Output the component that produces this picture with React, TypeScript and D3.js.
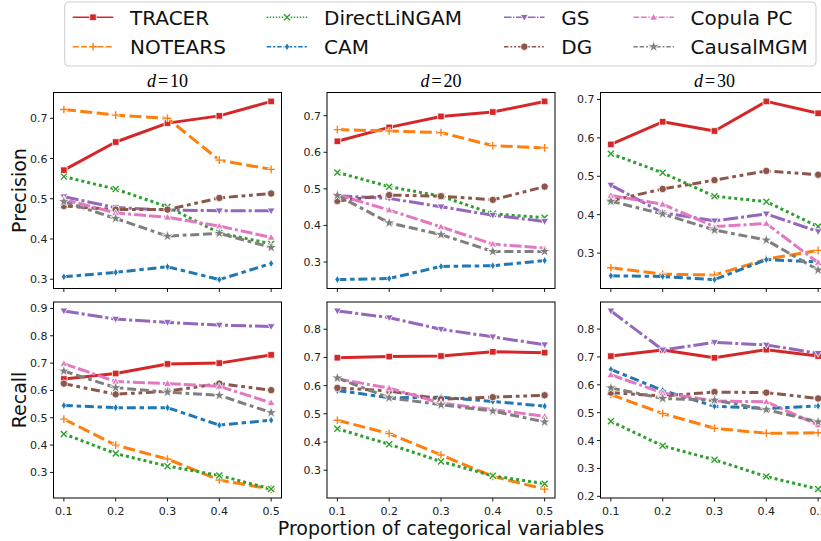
import React from 'react';
import * as d3 from 'd3';

// x values shared by every panel
const proportions = [0.1, 0.2, 0.3, 0.4, 0.5];
const xTickLabels = ['0.1', '0.2', '0.3', '0.4', '0.5'];
const methods = ['TRACER', 'NOTEARS', 'DirectLiNGAM', 'CAM', 'GS', 'DG', 'Copula PC', 'CausalMGM'];
const dimLabels = ['10', '20', '30'];
const metricLabels = ['Precision', 'Recall'];

// rows follow the order of `methods`
const precisionD10 = [
  [0.571, 0.641, 0.688, 0.706, 0.742],
  [0.722, 0.708, 0.700, 0.596, 0.573],
  [0.555, 0.524, 0.480, 0.415, 0.388],
  [0.306, 0.317, 0.331, 0.299, 0.339],
  [0.505, 0.478, 0.472, 0.470, 0.470],
  [0.482, 0.473, 0.473, 0.502, 0.513],
  [0.498, 0.465, 0.454, 0.432, 0.404],
  [0.493, 0.451, 0.407, 0.414, 0.379],
];
const precisionD20 = [
  [0.630, 0.668, 0.698, 0.710, 0.739],
  [0.662, 0.658, 0.654, 0.618, 0.612],
  [0.545, 0.506, 0.480, 0.432, 0.421],
  [0.252, 0.255, 0.288, 0.290, 0.304],
  [0.481, 0.474, 0.451, 0.428, 0.411],
  [0.467, 0.483, 0.480, 0.470, 0.506],
  [0.484, 0.442, 0.396, 0.349, 0.338],
  [0.482, 0.407, 0.375, 0.329, 0.329],
];
const precisionD30 = [
  [0.583, 0.642, 0.618, 0.695, 0.664],
  [0.262, 0.245, 0.243, 0.284, 0.307],
  [0.559, 0.509, 0.448, 0.434, 0.369],
  [0.241, 0.239, 0.231, 0.283, 0.277],
  [0.477, 0.405, 0.384, 0.402, 0.356],
  [0.436, 0.467, 0.490, 0.514, 0.504],
  [0.450, 0.427, 0.369, 0.377, 0.275],
  [0.435, 0.402, 0.360, 0.334, 0.256],
];
const recallD10 = [
  [0.642, 0.662, 0.697, 0.700, 0.730],
  [0.495, 0.400, 0.349, 0.272, 0.239],
  [0.441, 0.369, 0.323, 0.289, 0.239],
  [0.545, 0.537, 0.537, 0.473, 0.491],
  [0.891, 0.861, 0.849, 0.839, 0.834],
  [0.625, 0.586, 0.597, 0.625, 0.601],
  [0.698, 0.633, 0.625, 0.615, 0.555],
  [0.671, 0.610, 0.594, 0.582, 0.519],
];
const recallD20 = [
  [0.699, 0.703, 0.705, 0.720, 0.717],
  [0.477, 0.430, 0.354, 0.278, 0.233],
  [0.447, 0.392, 0.331, 0.280, 0.252],
  [0.583, 0.557, 0.559, 0.544, 0.527],
  [0.865, 0.841, 0.800, 0.773, 0.745],
  [0.592, 0.581, 0.552, 0.559, 0.566],
  [0.624, 0.591, 0.538, 0.515, 0.491],
  [0.627, 0.557, 0.532, 0.510, 0.471],
];
const recallD30 = [
  [0.703, 0.725, 0.697, 0.726, 0.703],
  [0.565, 0.497, 0.444, 0.426, 0.428],
  [0.469, 0.381, 0.331, 0.271, 0.226],
  [0.655, 0.580, 0.523, 0.515, 0.524],
  [0.865, 0.725, 0.752, 0.743, 0.713],
  [0.572, 0.560, 0.574, 0.572, 0.551],
  [0.636, 0.571, 0.542, 0.539, 0.456],
  [0.589, 0.551, 0.545, 0.511, 0.467],
];

const colors = ['#d62728', '#ff7f0e', '#2ca02c', '#1f77b4', '#9467bd', '#8c564b', '#e377c2', '#7f7f7f'];
const dashes = [
  [], [4, 1.5], [1, 1], [3, 1.25, 1.5, 1.25], [5, 1, 1, 1],
  [3, 1.25, 1.25, 1.25, 1.25, 1.25], [4, 1, 4, 1, 1, 1], [3, 1.25, 3, 1.25, 1.25, 1.25],
];
const markers = ['square', 'plus', 'x', 'thin_diamond', 'triangle_down', 'circle', 'triangle_up', 'star'];

const W = 821, H = 541;
const panelLeft = [53.5, 327, 600.5];
const panelW = 228;
const rowTop = [92.5, 302];
const panelH = 196;
const sans = 'DejaVu Sans, sans-serif';

const grid = [
  [precisionD10, precisionD20, precisionD30],
  [recallD10, recallD20, recallD30],
];

const starPath = d3.symbol().type(d3.symbolStar).size(42)();

function Marker({ type, x, y, color }) {
  const t = `translate(${x},${y})`;
  if (type === 'plus' || type === 'x') {
    const d = type === 'plus' ? 'M-3.8,0H3.8M0,-3.8V3.8' : 'M-3,-3L3,3M-3,3L3,-3';
    return (
      <g transform={t}>
        <path d={d} stroke="#fff" strokeWidth={3} fill="none" />
        <path d={d} stroke={color} strokeWidth={1.4} fill="none" />
      </g>
    );
  }
  let d;
  if (type === 'square') d = 'M-3.3,-3.3h6.6v6.6h-6.6Z';
  else if (type === 'thin_diamond') d = 'M0,-4L2.5,0L0,4L-2.5,0Z';
  else if (type === 'triangle_down') d = 'M-3.9,-2.8H3.9L0,3.9Z';
  else if (type === 'triangle_up') d = 'M0,-3.9L3.9,2.8H-3.9Z';
  else if (type === 'star') d = starPath;
  if (type === 'circle') {
    return <circle cx={x} cy={y} r={3.7} fill={color} stroke="#fff" strokeWidth={0.8} />;
  }
  return <path transform={t} d={d} fill={color} stroke="#fff" strokeWidth={0.8} />;
}

function Panel({ data, col, row }) {
  const x0 = panelLeft[col], y0 = rowTop[row];
  const x = d3.scaleLinear().domain([0.08, 0.52]).range([x0, x0 + panelW]);
  const all = data.flat();
  const [lo, hi] = d3.extent(all);
  const pad = (hi - lo) * 0.05;
  const y = d3.scaleLinear().domain([lo - pad, hi + pad]).range([y0 + panelH, y0]);
  const yTicks = y.ticks(6);
  const line = d3.line().x((d, i) => x(proportions[i])).y(d => y(d));
  const lw = 3;

  return (
    <g>
      {data.map((vals, m) => (
        <g key={m}>
          <path
            d={line(vals)}
            fill="none"
            stroke={colors[m]}
            strokeWidth={lw}
            strokeLinejoin="round"
            strokeDasharray={dashes[m].length ? dashes[m].map(v => v * lw).join(',') : null}
          />
          {vals.map((v, i) => (
            <Marker key={i} type={markers[m]} x={x(proportions[i])} y={y(v)} color={colors[m]} />
          ))}
        </g>
      ))}
      <rect x={x0} y={y0} width={panelW} height={panelH} fill="none" stroke="#000" strokeWidth={1} />
      {proportions.map((p, i) => (
        <g key={i}>
          <line x1={x(p)} x2={x(p)} y1={y0 + panelH} y2={y0 + panelH + 3.5} stroke="#000" strokeWidth={0.9} />
          {row === 1 && (
            <text x={x(p)} y={y0 + panelH + 16.5} textAnchor="middle" fontFamily={sans} fontSize={11} fill="#222">
              {xTickLabels[i]}
            </text>
          )}
        </g>
      ))}
      {yTicks.map((t, i) => (
        <g key={i}>
          <line x1={x0 - 3.5} x2={x0} y1={y(t)} y2={y(t)} stroke="#000" strokeWidth={0.9} />
          <text x={x0 - 6} y={y(t) + 4} textAnchor="end" fontFamily={sans} fontSize={11} fill="#222">
            {d3.format('.1f')(t)}
          </text>
        </g>
      ))}
    </g>
  );
}

const legendCols = [72.7, 266.7, 504, 633.3];
const legendRows = [17.3, 46.7];

function Legend() {
  const lw = 1.5;
  return (
    <g>
      <rect x={64.7} y={2} width={751.3} height={64} rx={4} fill="#fff" fillOpacity={0.8} stroke="#cccccc" strokeWidth={1} />
      {methods.map((name, m) => {
        const cx = legendCols[Math.floor(m / 2)];
        const cy = legendRows[m % 2];
        return (
          <g key={m}>
            <line
              x1={cx} x2={cx + 40.6} y1={cy} y2={cy}
              stroke={colors[m]} strokeWidth={lw}
              strokeDasharray={dashes[m].length ? dashes[m].map(v => v * lw).join(',') : null}
            />
            <Marker type={markers[m]} x={cx + 20.3} y={cy} color={colors[m]} />
            <text x={cx + 57.3} y={cy + 7.3} fontFamily={sans} fontSize={20} fill="#111">{name}</text>
          </g>
        );
      })}
    </g>
  );
}

export default function App() {
  return (
    <svg width={W} height={H} style={{ position: 'absolute', left: 0, top: 0, background: '#fff' }}>
      {grid.map((rowData, r) =>
        rowData.map((data, c) => <Panel key={`${r}-${c}`} data={data} col={c} row={r} />)
      )}
      {dimLabels.map((d, c) => (
        <text key={c} x={panelLeft[c] + panelW / 2} y={86.5} textAnchor="middle" fontFamily="Liberation Serif, serif" fontSize={18} fill="#000">
          <tspan fontStyle="italic">d</tspan>
          <tspan dx={2}>=</tspan>
          <tspan dx={2}>{d}</tspan>
        </text>
      ))}
      {metricLabels.map((label, r) => (
        <text
          key={r}
          transform={`translate(25.5,${rowTop[r] + panelH / 2}) rotate(-90)`}
          textAnchor="middle" fontFamily={sans} fontSize={19} fill="#111"
        >
          {label}
        </text>
      ))}
      <text x={441} y={535} textAnchor="middle" fontFamily={sans} fontSize={19} fill="#111">
        Proportion of categorical variables
      </text>
      <Legend />
    </svg>
  );
}
